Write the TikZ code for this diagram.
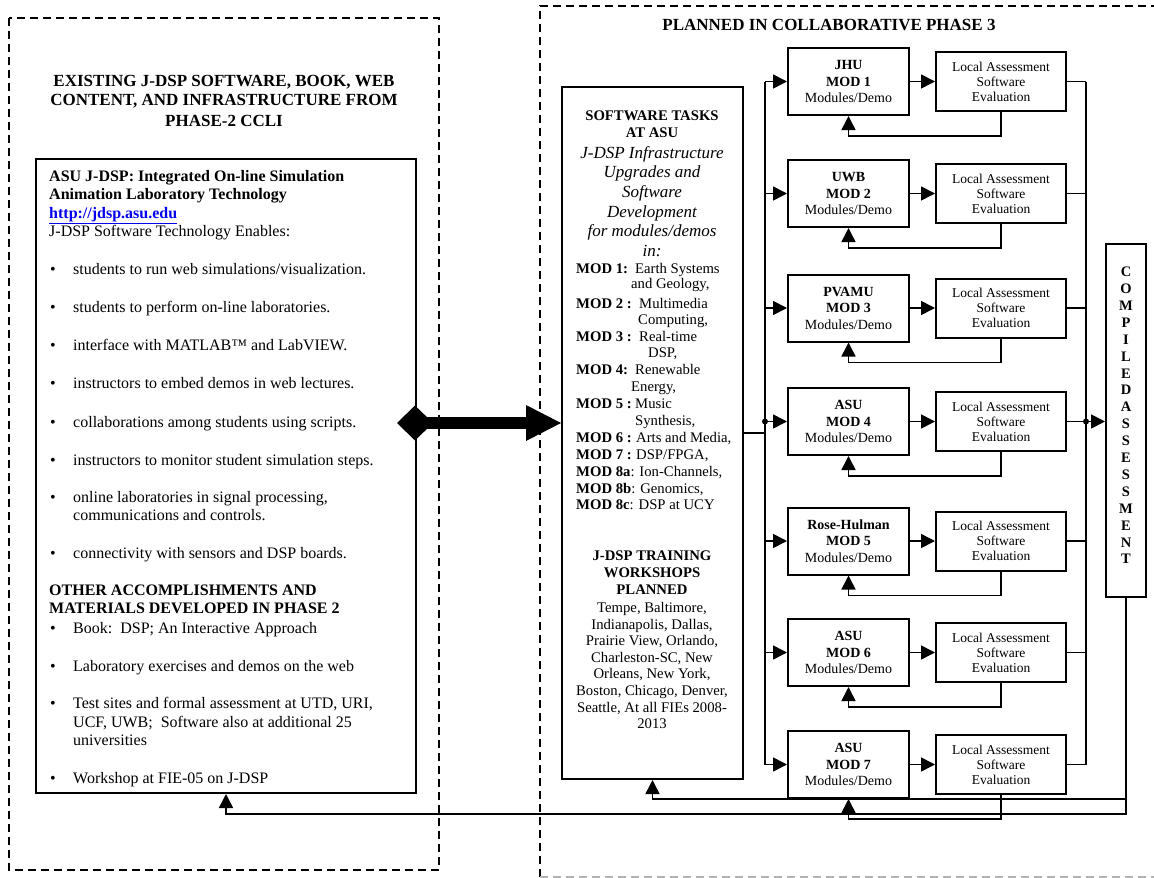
\documentclass[tikz,border=0pt]{standalone}
\usepackage{fontspec}
\setmainfont{Liberation Serif}
\usetikzlibrary{arrows.meta}
\definecolor{urlblue}{RGB}{0,0,238}
\begin{document}
\begin{tikzpicture}[x=1pt,y=-1pt,
  box/.style={draw,line width=2pt,inner sep=0pt},
  conn/.style={line width=1.6pt},
  arr/.style={line width=1.6pt,-{Triangle[length=14pt,width=14pt]}},
  dbox/.style={line width=1.5pt,dash pattern=on 8pt off 5pt},
  lt/.style={anchor=base west,inner sep=0pt,font=\fontsize{16}{18}\selectfont},
  ltb/.style={anchor=base west,inner sep=0pt,font=\fontsize{16}{18}\selectfont\bfseries},
  bul/.style={anchor=base,inner sep=0pt,font=\fontsize{16}{18}\selectfont},
  ttl/.style={anchor=base,inner sep=0pt,font=\fontsize{17}{20}\selectfont\bfseries},
  mb/.style={anchor=base,inner sep=0pt,font=\fontsize{14.7}{17}\selectfont\bfseries},
  mi/.style={anchor=base,inner sep=0pt,font=\fontsize{17}{19.5}\selectfont\itshape},
  ml/.style={anchor=base west,inner sep=0pt,font=\fontsize{14.7}{17}\selectfont},
  mc/.style={anchor=base,inner sep=0pt,font=\fontsize{14.7}{17}\selectfont},
  modbox/.style={box,minimum width=121pt,minimum height=67pt,align=center,font=\fontsize{14}{16.5}\selectfont},
  labox/.style={box,minimum width=130pt,minimum height=59pt,align=center,font=\fontsize{13.5}{15}\selectfont},
  jdot/.style={circle,fill,inner sep=0pt,minimum size=6pt}
]
\useasboundingbox (0,0) rectangle (1154,878);

% dashed frames
\draw[dbox] (9,18) rectangle (439,870);
\draw[dbox] (540,877) -- (540,6) -- (1154,6);
\draw[dbox,gray!60] (540,877) -- (1154,877);

% titles
\node[ttl] (t1) at (224,86) {EXISTING J-DSP SOFTWARE, BOOK, WEB};
\node[ttl] (t2) at (224,105) {CONTENT, AND INFRASTRUCTURE FROM};
\node[ttl] (t3) at (224,126) {PHASE-2 CCLI};
\node[ttl] (t4) at (829,30) {PLANNED IN COLLABORATIVE PHASE 3};

% main boxes
\node[box,minimum width=380pt,minimum height=634pt] (exist) at (226,476) {};
\node[box,minimum width=181pt,minimum height=692pt] (mid) at (652.5,433) {};

% existing box text
\node[ltb] (e1) at (49,181) {ASU J-DSP: Integrated On-line Simulation};
\node[ltb] (e2) at (49,199) {Animation Laboratory Technology};
\node[lt] (e3) at (49,218) {\textcolor{urlblue}{\underline{\textbf{http://jdsp.asu.edu}}}};
\node[lt] (e4) at (49,236) {J-DSP Software Technology Enables:};
\foreach \n/\y in {1/274,2/312,3/350,4/388,5/427,6/465,7/502,8/558,9/633,10/671,11/708,12/783}
  \node[bul] (bu\n) at (53,\y) {\textbullet};
\node[lt] (b1) at (73,274) {students to run web simulations/visualization.};
\node[lt] (b2) at (73,312) {students to perform on-line laboratories.};
\node[lt] (b3) at (73,350) {interface with MATLAB™ and LabVIEW.};
\node[lt] (b4) at (73,388) {instructors to embed demos in web lectures.};
\node[lt] (b5) at (73,427) {collaborations among students using scripts.};
\node[lt] (b6) at (73,465) {instructors to monitor student simulation steps.};
\node[lt] (b7) at (73,502) {online laboratories in signal processing,};
\node[lt] (b7b) at (73,520) {communications and controls.};
\node[lt] (b8) at (73,558) {connectivity with sensors and DSP boards.};
\node[ltb] (o1) at (49,595) {OTHER ACCOMPLISHMENTS AND};
\node[ltb] (o2) at (49,613) {MATERIALS DEVELOPED IN PHASE 2};
\node[lt] (c1) at (73,633) {Book:\ \ DSP; An Interactive Approach};
\node[lt] (c2) at (73,671) {Laboratory exercises and demos on the web};
\node[lt] (c3) at (73,708) {Test sites and formal assessment at UTD, URI,};
\node[lt] (c3b) at (73,727) {UCF, UWB;\ \ Software also at additional 25};
\node[lt] (c3c) at (73,745) {universities};
\node[lt] (c4) at (73,783) {Workshop at FIE-05 on J-DSP};

% middle box text
\node[mb] (s1) at (652,120) {SOFTWARE TASKS};
\node[mb] (s2) at (652,137) {AT ASU};
\node[mi] (s3) at (652,158) {J-DSP Infrastructure};
\node[mi] (s4) at (652,177) {Upgrades and};
\node[mi] (s5) at (652,197) {Software};
\node[mi] (s6) at (652,217) {Development};
\node[mi] (s7) at (652,236) {for modules/demos};
\node[mi] (s8) at (652,256) {in:};
\node[ml] (md1) at (576,273) {\makebox[59pt][l]{\textbf{MOD 1:}}Earth Systems};
\node[ml] (md1b) at (631,288) {and Geology,};
\node[ml] (md2) at (576,308) {\makebox[63pt][l]{\textbf{MOD 2 :}}Multimedia};
\node[ml] (md2b) at (638,324) {Computing,};
\node[ml] (md3) at (576,341) {\makebox[63pt][l]{\textbf{MOD 3 :}}Real-time};
\node[ml] (md3b) at (648,357) {DSP,};
\node[ml] (md4) at (576,374) {\makebox[59pt][l]{\textbf{MOD 4:}}Renewable};
\node[ml] (md4b) at (631,391) {Energy,};
\node[ml] (md5) at (576,408) {\makebox[59pt][l]{\textbf{MOD 5 :}}Music};
\node[ml] (md5b) at (635,425) {Synthesis,};
\node[ml] (md6) at (576,442) {\makebox[60pt][l]{\textbf{MOD 6 :}}Arts and Media,};
\node[ml] (md7) at (576,459) {\makebox[60pt][l]{\textbf{MOD 7 :}}DSP/FPGA,};
\node[ml] (md8a) at (576,476) {\textbf{MOD 8a}: Ion-Channels,};
\node[ml] (md8b) at (576,493) {\textbf{MOD 8b}: Genomics,};
\node[ml] (md8c) at (576,509) {\textbf{MOD 8c}: DSP at UCY};
\node[mb] (w1) at (652,560) {J-DSP TRAINING};
\node[mb] (w2) at (652,577) {WORKSHOPS};
\node[mb] (w3) at (652,594) {PLANNED};
\node[mc] (p1) at (652,612) {Tempe, Baltimore,};
\node[mc] (p2) at (652,629) {Indianapolis, Dallas,};
\node[mc] (p3) at (652,645) {Prairie View, Orlando,};
\node[mc] (p4) at (652,662) {Charleston-SC, New};
\node[mc] (p5) at (652,678) {Orleans, New York,};
\node[mc] (p6) at (652,695) {Boston, Chicago, Denver,};
\node[mc] (p7) at (652,712) {Seattle, At all FIEs 2008-};
\node[mc] (p8) at (652,728) {2013};

% module boxes
\node[modbox] (m1) at (848.5,81.5) {\textbf{JHU}\\\textbf{MOD 1}\\Modules/Demo};
\node[modbox] (m2) at (848.5,193.5) {\textbf{UWB}\\\textbf{MOD 2}\\Modules/Demo};
\node[modbox] (m3) at (848.5,308) {\textbf{PVAMU}\\\textbf{MOD 3}\\Modules/Demo};
\node[modbox] (m4) at (848.5,421.5) {\textbf{ASU}\\\textbf{MOD 4}\\Modules/Demo};
\node[modbox] (m5) at (848.5,541) {\textbf{Rose-Hulman}\\\textbf{MOD 5}\\Modules/Demo};
\node[modbox] (m6) at (848.5,652.5) {\textbf{ASU}\\\textbf{MOD 6}\\Modules/Demo};
\node[modbox] (m7) at (848.5,764.5) {\textbf{ASU}\\\textbf{MOD 7}\\Modules/Demo};

% local assessment boxes
\foreach \i/\y in {1/81.5,2/193.5,3/308,4/421.5,5/541,6/652.5,7/764.5}
  \node[labox] (a\i) at (1001,\y) {Local Assessment\\Software\\Evaluation};

% compiled assessment
\node[box,minimum width=40pt,minimum height=353pt] (comp) at (1126,420.5) {};
\node[inner sep=0pt,align=center,font=\fontsize{14.5}{16.9}\selectfont\bfseries] (comptxt) at (1126,415.5)
  {C\\O\\M\\P\\I\\L\\E\\D\\A\\S\\S\\E\\S\\S\\M\\E\\N\\T};

% left bus
\coordinate (busT) at (765,81.5);
\coordinate (busB) at (765,764.5);
\draw[conn] (mid.east) -- (mid.east -| busT);
\draw[conn] (busT) -- (busB);
\foreach \i in {1,...,7} {
  \draw[arr] (busT |- m\i.west) -- (m\i.west);
  \draw[arr] (m\i.east) -- (a\i.west);
  \draw[arr] (a\i.south) -- ++(0,24) -| (m\i.south);
}
\node[jdot] (d1) at (busT |- m4.west) {};

% right bus
\coordinate (rbT) at (1086,81.5);
\coordinate (rbB) at (1086,764.5);
\draw[conn] (rbT) -- (rbB);
\foreach \i in {1,...,7}
  \draw[conn] (a\i.east) -- (a\i.east -| rbT);
\draw[arr] (a4.east -| rbT) -- (comp.west |- a4.east);
\node[jdot] (d2) at (a4.east -| rbT) {};

% feedback from compiled assessment
\draw[arr] (comp.south) -- ++(0,216) -| (exist.south);
\draw[arr] (comp.south) -- ++(0,201) -| (mid.south);

% big double arrow
\coordinate (bigS) at (397,423);
\draw[line width=12pt,{Diamond[length=36pt,width=35pt,line width=0pt]}-{Triangle[length=35pt,width=36pt,line width=0pt]}] (bigS) -- (mid.west |- bigS);
\end{tikzpicture}
\end{document}
